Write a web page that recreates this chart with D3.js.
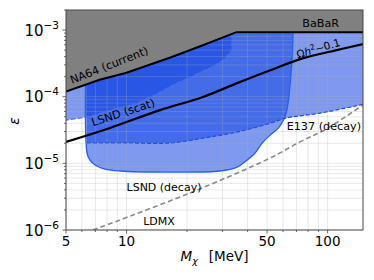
<!DOCTYPE html>
<html><head><meta charset="utf-8">
<script src="https://cdn.jsdelivr.net/npm/d3@7"></script>
<style>body{margin:0;background:#fff}svg{display:block;font-family:"DejaVu Sans",sans-serif}</style>
</head><body><svg id="c" width="374" height="280"></svg>
<script>
// ---- data ----
const xTickVals = [5, 10, 50, 100];
const xTickLabels = ["5", "10", "50", "100"];
const yTickVals = [1e-6, 1e-5, 1e-4, 1e-3];
const yTickExps = ["\u22126", "\u22125", "\u22124", "\u22123"];

// NA64 (current) bound and BaBaR plateau
const na64M   = [5, 7.35, 10, 16.4, 23.1, 35.2];
const na64Eps = [1.19e-4, 1.8e-4, 2.29e-4, 3.84e-4, 5.66e-4, 9.3e-4];
const babarM   = [35.2, 150];
const babarEps = [9.3e-4, 9.3e-4];

// relic target line  Omega h^2 ~ 0.1
const relicM   = [5, 8.28, 14.7, 24.0, 35.5, 51.9, 75.7, 111, 150];
const relicEps = [2.1e-5, 3.4e-5, 6.3e-5, 9.9e-5, 1.6e-4, 2.5e-4, 3.79e-4, 5.0e-4, 6.15e-4];

// LSND (scat) region: lower edge, then wall up
const scatM   = [4.5, 5, 6.36, 8.27, 11.3, 14.7, 17.4, 20.7, 26.1, 30.2, 33.4, 33.4, 4.5];
const scatEps = [4.4e-5, 4.46e-5, 4.94e-5, 6.27e-5, 8.0e-5, 1.17e-4, 1.55e-4, 1.96e-4, 2.71e-4, 3.52e-4, 5.0e-4, 3e-3, 3e-3];

// LSND (decay) region outline
const decM   = [6.36, 6.36, 6.58, 6.97, 7.82, 9.26, 16.4, 29.1, 35.5, 38.7, 43.6, 47.3, 51.9, 56.9, 60.3, 62.4, 63.9, 65.4, 66.9, 67.7];
const decEps = [3e-3, 1.43e-5, 1.12e-5, 9.45e-6, 8.2e-6, 7.68e-6, 7.41e-6, 7.68e-6, 8.8e-6, 1.05e-5, 1.43e-5, 2.02e-5, 2.66e-5, 3.37e-5, 4.46e-5, 5.87e-5, 8.9e-5, 1.78e-4, 5.0e-4, 3e-3];

// E137 (decay) region: lower edge
const e137M   = [6.36, 10.4, 16.4, 24.0, 35.5, 51.9, 62.6, 91.6, 160];
const e137Eps = [2.02e-5, 2.02e-5, 2.02e-5, 2.39e-5, 2.95e-5, 4.0e-5, 4.8e-5, 5.67e-5, 8.0e-5];

// LDMX projection
const ldmxM   = [6.81, 20.7, 51.7, 72.9, 97, 150];
const ldmxEps = [1e-6, 3.6e-6, 1.2e-5, 2.1e-5, 3.2e-5, 7.5e-5];

// ---- drawing ----
const zip = (a, b) => a.map((v, i) => [v, b[i]]);
const svg = d3.select("#c");
const L = 66, R = 363, T = 10, B = 230;
const x = d3.scaleLog().domain([5, 150]).range([L, R]);
const y = d3.scaleLog().domain([1e-6, 2e-3]).range([B, T]);
const line = (c) => d3.line().x(d => x(d[0])).y(d => y(d[1])).curve(c || d3.curveLinear);

svg.append("defs").append("clipPath").attr("id", "clip")
  .append("rect").attr("x", L).attr("y", T).attr("width", R - L).attr("height", B - T);
const g = svg.append("g").attr("clip-path", "url(#clip)");

const blue = "rgb(20,70,225)", op = 0.55;

// fills
g.append("path").attr("d", line()(zip(scatM, scatEps)) + "Z").attr("fill", blue).attr("fill-opacity", op);
g.append("path").attr("d", line(d3.curveCatmullRom)(zip(decM, decEps)) + "Z").attr("fill", blue).attr("fill-opacity", op);
const e137Poly = zip(e137M, e137Eps).concat([[160, 3e-3], [6.36, 3e-3]]);
g.append("path").attr("d", line(d3.curveCatmullRom)(e137Poly.slice(0, e137M.length)) + "L" + x(160) + "," + y(3e-3) + "L" + x(6.36) + "," + y(3e-3) + "Z")
  .attr("fill", blue).attr("fill-opacity", op);

// grid
const gx = x.ticks(), gy = y.ticks();
g.append("g").selectAll("line").data(gx).join("line")
  .attr("x1", d => x(d)).attr("x2", d => x(d)).attr("y1", T).attr("y2", B)
  .attr("stroke", "#b0b0b0").attr("stroke-opacity", 0.35).attr("stroke-width", 0.8);
g.append("g").selectAll("line").data(gy).join("line")
  .attr("y1", d => y(d)).attr("y2", d => y(d)).attr("x1", L).attr("x2", R)
  .attr("stroke", "#b0b0b0").attr("stroke-opacity", 0.35).attr("stroke-width", 0.8);

// region edges
g.append("path").attr("d", line()(zip(scatM, scatEps).slice(0, 12)))
  .attr("fill", "none").attr("stroke", "#3f73ea").attr("stroke-width", 1.2).attr("stroke-dasharray", "5,2");
g.append("path").attr("d", line(d3.curveCatmullRom)(zip(decM, decEps)))
  .attr("fill", "none").attr("stroke", "#2a5fe8").attr("stroke-width", 1.3);
g.append("path").attr("d", line(d3.curveCatmullRom)(zip(e137M, e137Eps)))
  .attr("fill", "none").attr("stroke", "#2050e0").attr("stroke-width", 1.2).attr("stroke-dasharray", "4,2");

// LDMX dashed
g.append("path").attr("d", line(d3.curveCatmullRom)(zip(ldmxM, ldmxEps)))
  .attr("fill", "none").attr("stroke", "#8a8a8a").attr("stroke-width", 1.6).attr("stroke-dasharray", "5,3");

// gray excluded region
const bound = zip(na64M, na64Eps).concat(zip(babarM, babarEps).slice(1));
g.append("path").attr("d", line()(bound.concat([[160, 9.3e-4], [160, 3e-3], [5, 3e-3]])) + "Z").attr("fill", "#808080");
g.append("path").attr("d", line()(bound)).attr("fill", "none").attr("stroke", "#000").attr("stroke-width", 2);

// relic line
g.append("path").attr("d", line(d3.curveCatmullRom)(zip(relicM, relicEps)))
  .attr("fill", "none").attr("stroke", "#000").attr("stroke-width", 2.2);

// labels
function lab(t, m, e, rot, size) {
  const px = x(m), py = y(e);
  return svg.append("text").attr("x", px).attr("y", py).attr("font-size", size || 11)
    .attr("transform", rot ? `rotate(${rot},${px},${py})` : null).attr("fill", "#000").text(t);
}
lab("NA64 (current)", 5.35, 1.55e-4, -21.5, 11.2);
lab("LSND (scat)", 6.81, 3.6e-5, -18, 11.2);
lab("BaBaR", 74.8, 1.1e-3, 0, 11.2);
lab("E137 (decay)", 62.6, 3.16e-5, 0, 11.2);
lab("LSND (decay)", 10, 3.84e-6, 0, 11);
lab("LDMX", 12.1, 1.19e-6, 0, 11);
{
  const px = x(71), py = y(3.79e-4);
  const t = svg.append("text").attr("x", px).attr("y", py).attr("font-size", 10.5)
    .attr("transform", `rotate(-16,${px},${py})`).attr("fill", "#000");
  t.append("tspan").text("\u03A9");
  t.append("tspan").attr("font-style", "italic").text("h");
  t.append("tspan").attr("dy", -4).attr("font-size", 7.5).text("2");
  t.append("tspan").attr("dy", 4).text("\u223C0.1");
}

// axes frame
svg.append("rect").attr("x", L).attr("y", T).attr("width", R - L).attr("height", B - T)
  .attr("fill", "none").attr("stroke", "#444").attr("stroke-width", 1);

// y ticks
svg.append("g").selectAll("line").data(gy).join("line")
  .attr("x1", L).attr("x2", d => L - (yTickVals.includes(d) ? 3.5 : 2))
  .attr("y1", d => y(d)).attr("y2", d => y(d)).attr("stroke", "#444").attr("stroke-width", 0.8);
yTickVals.forEach((v, i) => {
  const t = svg.append("text").attr("x", 59).attr("y", y(v) + 5.5).attr("text-anchor", "end")
    .attr("font-size", 15).attr("fill", "#000");
  t.append("tspan").text("10");
  t.append("tspan").attr("dy", -7).attr("font-size", 10.5).text(yTickExps[i]);
});
// x ticks
svg.append("g").selectAll("line").data(gx).join("line")
  .attr("y1", B).attr("y2", d => B + (xTickVals.includes(d) ? 3.5 : 2))
  .attr("x1", d => x(d)).attr("x2", d => x(d)).attr("stroke", "#444").attr("stroke-width", 0.8);
xTickVals.forEach((v, i) => {
  svg.append("text").attr("x", x(v)).attr("y", 246).attr("text-anchor", "middle")
    .attr("font-size", 13.5).attr("fill", "#000").text(xTickLabels[i]);
});

// axis titles
{
  const t = svg.append("text").attr("x", (L + R) / 2).attr("y", 261).attr("text-anchor", "middle")
    .attr("font-size", 13.5).attr("fill", "#000");
  t.append("tspan").attr("font-style", "italic").text("M");
  t.append("tspan").attr("font-style", "italic").attr("dy", 3).attr("font-size", 9.5).text("\u03C7");
  t.append("tspan").attr("dy", -3).text("\u2002 [MeV]");
}
svg.append("text").attr("transform", "translate(19,121) rotate(-90)").attr("text-anchor", "middle")
  .attr("font-size", 14).attr("font-style", "italic").attr("fill", "#000").text("\u03B5");
</script></body></html>
